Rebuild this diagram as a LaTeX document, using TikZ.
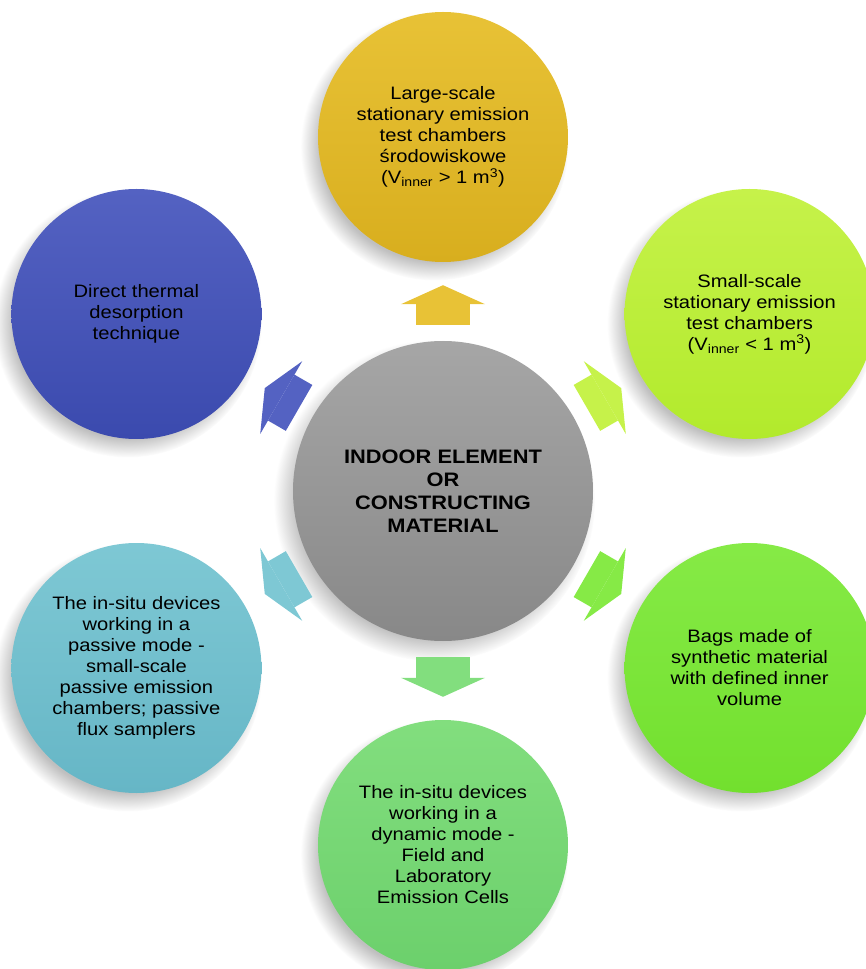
\documentclass[tikz,border=0pt]{standalone}
\usepackage{fontspec}
\setmainfont{Liberation Sans}[FakeStretch=1.12]
\usepackage{tikz}
\usetikzlibrary{arrows.meta,positioning,calc,shadows}
\definecolor{matgray}{HTML}{A6A6A6}
\definecolor{matgraydk}{HTML}{888888}
\definecolor{largeyel}{HTML}{E8C236}
\definecolor{largeyeldk}{HTML}{D8AE1E}
\definecolor{smalllime}{HTML}{C6F24A}
\definecolor{smalllimedk}{HTML}{B2EA2C}
\definecolor{baggreen}{HTML}{86EA46}
\definecolor{baggreendk}{HTML}{72E02E}
\definecolor{dyngreen}{HTML}{82DE7E}
\definecolor{dyngreendk}{HTML}{6CD06C}
\definecolor{pasteal}{HTML}{7EC8D4}
\definecolor{pastealdk}{HTML}{66B6C6}
\definecolor{dirblue}{HTML}{5462C2}
\definecolor{dirbluedk}{HTML}{3B4AAE}
\tikzstyle{bubble}=[circle,minimum size=250pt,inner sep=0pt,align=center,text=black,
  font=\fontsize{18}{21}\selectfont,
  circular drop shadow={shadow xshift=-8pt,shadow yshift=-9pt,shadow scale=1.07,opacity=.5}]
\tikzstyle{hub}=[bubble,minimum size=300pt,font=\fontsize{19.5}{23}\selectfont\bfseries]
\tikzstyle{link}=[line width=53pt,-{Triangle[length=19pt,width=84pt,line width=0pt]},
  shorten <=16pt,shorten >=23pt]

\begin{document}
\begin{tikzpicture}[x=1pt,y=1pt]
\useasboundingbox (-443,-478) rectangle (423,491);
\node [hub,top color=matgray,bottom color=matgraydk] (mat) at (0,0)
  {INDOOR ELEMENT\\OR\\CONSTRUCTING\\MATERIAL};
\node [bubble,top color=largeyel,bottom color=largeyeldk] (large) at (90:354)
  {Large-scale\\stationary emission\\test chambers\\środowiskowe\\(V\textsubscript{inner} > 1 m\textsuperscript{3})};
\node [bubble,top color=smalllime,bottom color=smalllimedk] (small) at (30:354)
  {Small-scale\\stationary emission\\test chambers\\(V\textsubscript{inner} < 1 m\textsuperscript{3})};
\node [bubble,top color=baggreen,bottom color=baggreendk] (bags) at (-30:354)
  {Bags made of\\synthetic material\\with defined inner\\volume};
\node [bubble,top color=dyngreen,bottom color=dyngreendk] (dynamic) at (-90:354)
  {The in-situ devices\\working in a\\dynamic mode -\\Field and\\Laboratory\\Emission Cells};
\node [bubble,top color=pasteal,bottom color=pastealdk] (passive) at (-150:354)
  {The in-situ devices\\working in a\\passive mode -\\small-scale\\passive emission\\chambers; passive\\flux samplers};
\node [bubble,top color=dirblue,bottom color=dirbluedk] (direct) at (150:354)
  {Direct thermal\\desorption\\technique};

\draw [link,largeyel] (mat) -- (large);
\draw [link,smalllime] (mat) -- (small);
\draw [link,baggreen] (mat) -- (bags);
\draw [link,dyngreen] (mat) -- (dynamic);
\draw [link,pasteal] (mat) -- (passive);
\draw [link,dirblue] (mat) -- (direct);
\end{tikzpicture}
\end{document}
